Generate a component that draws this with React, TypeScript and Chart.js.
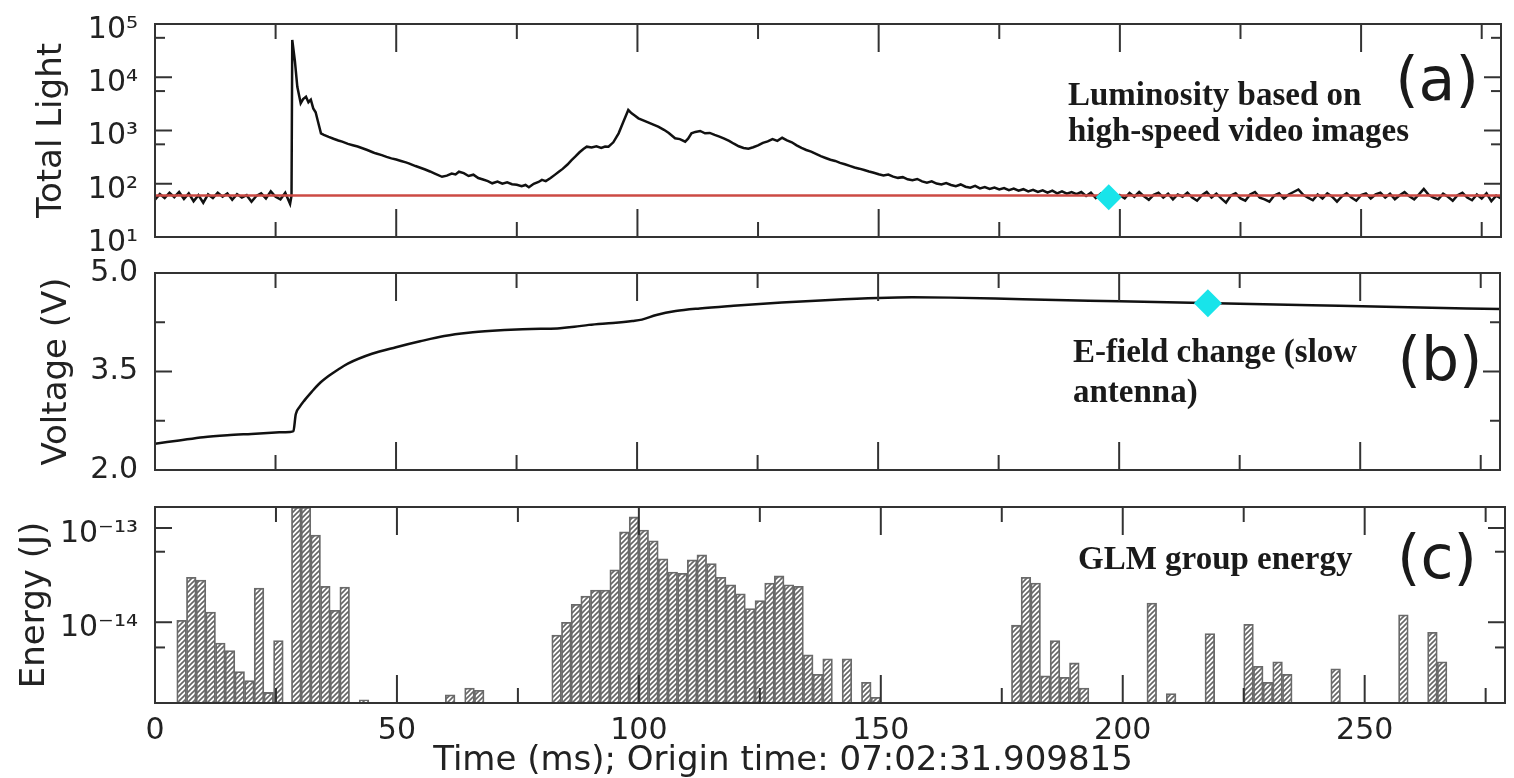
import React, { useEffect, useRef } from 'react';
import { Chart, registerables } from 'chart.js';

Chart.register(...registerables);

// ---------- shared time axis ----------
const timeTicks = [0, 50, 100, 150, 200, 250];
const timeTickLabels = ['0', '50', '100', '150', '200', '250'];
const timeMinorTicks = [25, 75, 125, 175, 225, 275];
const timeMin = 0;
const timeMax = 279;
const timeTitle = 'Time (ms); Origin time: 07:02:31.909815';

// ---------- panel (a): total light ----------
const lightTime = [
  0, 1, 2, 3, 4, 5, 6, 7, 8, 9, 10, 11, 12, 13, 14, 15, 16, 17, 18, 19, 20, 21, 22, 23, 24, 25, 26, 27, 28, 28.3,
  28.45, 29.0, 29.5, 30.2, 30.7, 31.3, 31.8, 32.3, 32.8, 33.3, 33.7, 34.4, 35, 36, 37, 38, 38.8, 40, 41, 42, 43, 44, 45, 45.7, 47, 48, 49, 50, 51, 52, 52.6, 54, 55, 56, 57, 58, 59.5,
  60.5, 61.5, 62.3, 63, 64, 65, 66, 67, 68, 69, 69.9, 71, 72, 73, 74, 75, 76, 76.8, 77.5, 78.5, 79.5, 80.2, 81, 82, 83, 83.7, 84.5, 85.5, 86.3, 87.1, 88, 88.8, 89.5, 90.5, 91.5, 92.5, 93.3, 94, 95,
  96.1, 97, 98.1, 98.8, 99.5, 100.2, 101.2, 102.2, 103.3, 104.3, 105.5, 106.5, 107.8, 108.8, 109.9, 110.5, 111.2, 112, 113, 114,
  115, 116, 117, 118, 119, 120, 121, 122, 123, 124, 125, 126, 127, 128, 129, 130, 131, 132, 133, 134,
  135, 136, 137, 138, 139, 140, 141, 142, 143, 144, 145, 146, 147, 148, 149, 150,
  151, 152, 153, 154, 155, 156, 157, 158, 159, 160,
  161, 162, 163, 164, 165, 166, 167, 168, 169, 170,
  171, 172, 173, 174, 175, 176, 177, 178, 179, 180,
  181, 182, 183, 184, 185, 186, 187, 188, 189, 190,
  191, 192, 193, 194, 195, 196, 197, 198, 199, 200,
  201, 202, 203, 204, 205, 206, 207, 208, 209, 210,
  211, 212, 213, 214, 215, 216, 217, 218, 219, 220,
  221, 222, 223, 224, 225, 226, 227, 228, 229, 230,
  231, 232, 233, 234, 235, 236, 237, 238, 239, 240,
  241, 242, 243, 244, 245, 246, 247, 248, 249, 250,
  251, 252, 253, 254, 255, 256, 257, 258, 259, 260,
  261, 262, 263, 264, 265, 266, 267, 268, 269, 270,
  271, 272, 273, 274, 275, 276, 277, 278, 279,
];
const lightValue = [
  50, 64, 54, 68, 56, 70, 52, 66, 47, 61, 44, 63, 54, 68, 57, 66, 50, 64, 55, 61, 46, 59, 66, 53, 72, 57, 51, 68, 42, 60,
  50000, 20000, 6600, 3240, 3900, 4300, 3400, 3800, 2600, 2200, 1570, 885, 830, 760, 700, 650, 617, 560, 530, 500, 465, 430, 395, 373, 345, 320, 300, 285, 268, 252, 242, 215, 200, 185, 170, 155, 135,
  142, 155, 150, 168, 158, 140, 148, 128, 120, 112, 102, 110, 100, 106, 98, 96, 90, 95, 86, 100, 108, 118, 112, 128, 150, 168, 190, 230, 275, 322, 390, 450, 497, 480, 505, 470, 500, 497, 600,
  885, 1400, 2427, 2100, 1900, 1693, 1550, 1420, 1290, 1178, 1030, 900, 713, 690, 617, 700, 885, 940, 980, 885,
  900, 830, 770, 705, 640, 565, 505, 470, 455, 485, 525, 585, 625, 690, 640, 730, 655, 600, 525, 470,
  430, 400, 365, 330, 305, 282, 268, 246, 232, 216, 202, 192, 181, 170, 161, 151,
  143, 149, 136, 129, 133, 121, 117, 123, 111, 105,
  111, 101, 97, 103, 95, 90, 97, 88, 84, 91,
  82, 87, 80, 85, 78, 83, 76, 81, 74, 79,
  72, 77, 70, 75, 68, 74, 66, 72, 65, 70,
  64, 70, 59, 68, 54, 65, 51, 63, 48, 61,
  53, 67, 57, 70, 58, 50, 62, 68, 55, 65,
  51, 63, 57, 68, 55, 48, 61, 70, 55, 65,
  53, 44, 60, 66, 53, 48, 63, 70, 55, 51,
  46, 60, 66, 53, 63, 70, 78, 62, 55, 49,
  63, 53, 66, 57, 46, 58, 66, 55, 48, 61,
  66, 53, 63, 68, 55, 65, 51, 61, 70, 58,
  51, 63, 80, 62, 55, 51, 65, 57, 48, 61,
  68, 55, 49, 63, 53, 66, 47, 60, 53,
];
const thresholdTime = [0, 279];
const thresholdValue = [60, 60];
const lightMarkerTime = [197.7];
const lightMarkerValue = [56];
const lightTicks = [10, 100, 1000, 10000, 100000];
const lightTickLabels = ['10¹', '10²', '10³', '10⁴', '10⁵'];
const lightMinorTicks = [550, 5500, 55000];

// ---------- panel (b): voltage ----------
const voltTime = [0, 5, 10, 15, 20, 25, 28, 28.7, 29.2, 30, 31, 32.5, 34, 36, 38, 40, 45, 50, 55, 60, 65, 70, 75, 80, 84, 87, 90, 95, 99, 101, 104, 108, 113, 120, 130, 140, 150, 157, 165, 180, 200, 220, 240, 260, 279];
const voltValue = [2.40, 2.45, 2.50, 2.53, 2.55, 2.57, 2.58, 2.59, 2.85, 2.96, 3.06, 3.19, 3.31, 3.43, 3.53, 3.62, 3.77, 3.87, 3.96, 4.04, 4.09, 4.12, 4.14, 4.15, 4.16, 4.18, 4.21, 4.24, 4.27, 4.29, 4.36, 4.42, 4.46, 4.50, 4.55, 4.59, 4.62, 4.63, 4.625, 4.60, 4.57, 4.54, 4.51, 4.48, 4.45];
const voltMarkerTime = [218.4];
const voltMarkerValue = [4.54];
const voltTicks = [2, 3.5, 5];
const voltTickLabels = ['2.0', '3.5', '5.0'];
const voltMinorTicks = [2.75, 4.25];

// ---------- panel (c): GLM group energy ----------
const glmTime = [
  5.5, 7.5, 9.5, 11.5, 13.5, 15.5, 17.5, 19.5, 21.5, 23.5, 25.5,
  29.2, 31.2, 33.2, 35.2, 37.2, 39.2, 43.2,
  61, 65, 67,
  83, 85, 87, 89, 91, 93, 95, 97, 99, 101, 103, 105, 107, 109, 111,
  113, 115, 117, 119, 121, 123, 125, 127, 129, 131, 133, 135, 137, 139,
  143, 147, 149,
  178, 180, 182, 184, 186, 188, 190, 192,
  206, 210, 218, 226, 228, 230, 232, 234, 244, 258, 264, 266,
];
const glmEnergy = [
  1.05e-14, 3.0e-14, 2.8e-14, 1.28e-14, 6.0e-15, 5.0e-15, 3.0e-15, 2.4e-15, 2.3e-14, 1.8e-15, 6.4e-15,
  1.66e-13, 1.66e-13, 8.4e-14, 2.4e-14, 1.34e-14, 2.36e-14, 1.5e-15,
  1.7e-15, 2.0e-15, 1.9e-15,
  7.3e-15, 1.0e-14, 1.55e-14, 1.9e-14, 2.2e-14, 2.2e-14, 3.6e-14, 9.1e-14, 1.31e-13, 9.5e-14, 7.3e-14, 4.7e-14, 3.4e-14, 3.3e-14, 4.6e-14,
  5.2e-14, 4.2e-14, 3.0e-14, 2.5e-14, 2.0e-14, 1.4e-14, 1.7e-14, 2.6e-14, 3.1e-14, 2.5e-14, 2.4e-14, 4.5e-15, 2.8e-15, 4.1e-15,
  4.1e-15, 2.3e-15, 1.6e-15,
  9.3e-15, 3.0e-14, 2.6e-14, 2.7e-15, 6.4e-15, 2.6e-15, 3.7e-15, 2.0e-15,
  1.6e-14, 1.75e-15, 7.6e-15, 9.5e-15, 3.4e-15, 2.3e-15, 3.8e-15, 2.8e-15, 3.2e-15, 1.2e-14, 7.8e-15, 3.8e-15,
];
const energyMin = 1.39e-15;
const energyMax = 1.67e-13;
const energyTicks = [1e-14, 1e-13];
const energyTickLabels = ['10⁻¹⁴', '10⁻¹³'];
const energyMinorTicks = [5.4e-15, 5.6e-14];

// ---------- helpers ----------
const INK = '#222';
const FONT = 'DejaVu Sans';
const NOTE_FONT = 'bold 33px "Liberation Serif"';
const PANEL_FONT = '60px "DejaVu Sans"';

type Txt = { text: string; x: number; y: number; font: string; align: CanvasTextAlign; color?: string };

function framePlugin(id: string, yMajor: number[], yMinor: number[], texts: Txt[]) {
  return {
    id,
    afterDraw(chart: any) {
      const { ctx, chartArea: a } = chart;
      const xs = chart.scales.x;
      const ys = chart.scales.y;
      ctx.save();
      ctx.strokeStyle = '#333';
      ctx.lineWidth = 2;
      const seg = (x1: number, y1: number, x2: number, y2: number) => {
        ctx.beginPath();
        ctx.moveTo(x1, y1);
        ctx.lineTo(x2, y2);
        ctx.stroke();
      };
      timeTicks.forEach((v) => {
        const p = xs.getPixelForValue(v);
        seg(p, a.top, p, a.top + 28);
        seg(p, a.bottom, p, a.bottom - 28);
      });
      timeMinorTicks.forEach((v) => {
        const p = xs.getPixelForValue(v);
        seg(p, a.top, p, a.top + 15);
        seg(p, a.bottom, p, a.bottom - 15);
      });
      yMajor.forEach((v) => {
        const p = ys.getPixelForValue(v);
        seg(a.left, p, a.left + 17, p);
        seg(a.right, p, a.right - 17, p);
      });
      yMinor.forEach((v) => {
        const p = ys.getPixelForValue(v);
        seg(a.left, p, a.left + 10, p);
        seg(a.right, p, a.right - 10, p);
      });
      ctx.strokeRect(a.left, a.top, a.right - a.left, a.bottom - a.top);
      texts.forEach((t) => {
        ctx.font = t.font;
        ctx.fillStyle = t.color || '#1a1a1a';
        ctx.textAlign = t.align;
        ctx.textBaseline = 'middle';
        ctx.fillText(t.text, t.x, t.y);
      });
      ctx.restore();
    },
  };
}

function yAxis(type: string, min: number, max: number, ticks: number[], labels: string[], title: string, titlePad: number, labelOffset: number) {
  return {
    type,
    min,
    max,
    afterFit: (s: any) => {
      s.width = 155;
      s.paddingTop = 0;
      s.paddingBottom = 0;
    },
    afterBuildTicks: (s: any) => {
      s.ticks = ticks.map((v) => ({ value: v }));
    },
    grid: { display: false, drawTicks: false },
    border: { display: false },
    ticks: {
      autoSkip: false,
      callback: (_v: any, i: number) => labels[i],
      font: { size: 30, family: FONT },
      color: INK,
      padding: 17,
      labelOffset,
    },
    title: {
      display: true,
      text: title,
      font: { size: 34, family: FONT },
      color: INK,
      padding: { top: titlePad, bottom: 0 },
    },
  };
}

const hiddenX = { type: 'linear', min: timeMin, max: timeMax, display: false };

function makeHatch(): CanvasPattern | string {
  const n = 5;
  const c = document.createElement('canvas');
  c.width = n;
  c.height = n;
  const g = c.getContext('2d');
  if (!g) return '#bbb';
  g.fillStyle = '#fff';
  g.fillRect(0, 0, n, n);
  g.strokeStyle = '#666';
  g.lineWidth = 1.6;
  g.beginPath();
  g.moveTo(-1, n + 1);
  g.lineTo(n + 1, -1);
  g.moveTo(-1, 1);
  g.lineTo(1, -1);
  g.moveTo(n - 1, n + 1);
  g.lineTo(n + 1, n - 1);
  g.stroke();
  return g.createPattern(c, 'repeat') || '#bbb';
}

const zip = (xs: number[], ys: number[]) => xs.map((x, i) => ({ x, y: ys[i] }));

const common = {
  responsive: false,
  animation: false as const,
  devicePixelRatio: 1,
  events: [] as any[],
};

export default function App() {
  const refA = useRef<HTMLCanvasElement>(null);
  const refB = useRef<HTMLCanvasElement>(null);
  const refC = useRef<HTMLCanvasElement>(null);

  useEffect(() => {
    Chart.defaults.font.family = FONT;
    const charts: Chart[] = [];

    if (refA.current) {
      charts.push(
        new Chart(refA.current, {
          type: 'line',
          data: {
            datasets: [
              {
                data: zip(lightMarkerTime, lightMarkerValue),
                showLine: false,
                pointStyle: 'rectRot',
                pointRadius: 13,
                backgroundColor: '#18e4ea',
                borderWidth: 0,
                order: 0,
              },
              {
                data: zip(thresholdTime, thresholdValue),
                borderColor: '#cc4a44',
                borderWidth: 2.5,
                pointRadius: 0,
                order: 1,
              },
              {
                data: zip(lightTime, lightValue),
                borderColor: '#111',
                borderWidth: 2.5,
                pointRadius: 0,
                tension: 0,
                order: 2,
              },
            ],
          },
          options: {
            ...common,
            layout: { padding: { left: 0, right: 9, top: 24, bottom: 25 } },
            plugins: { legend: { display: false }, tooltip: { enabled: false } },
            scales: {
              x: hiddenX as any,
              y: yAxis('logarithmic', 10, 100000, lightTicks, lightTickLabels, 'Total Light', 32, 6) as any,
            },
          },
          plugins: [
            framePlugin('frameA', lightTicks, lightMinorTicks, [
              { text: 'Luminosity based on', x: 1068, y: 96, font: NOTE_FONT, align: 'left' },
              { text: 'high-speed video images', x: 1068, y: 132, font: NOTE_FONT, align: 'left' },
              { text: '(a)', x: 1437, y: 84, font: PANEL_FONT, align: 'center' },
            ]) as any,
          ],
        })
      );
    }

    if (refB.current) {
      charts.push(
        new Chart(refB.current, {
          type: 'line',
          data: {
            datasets: [
              {
                data: zip(voltMarkerTime, voltMarkerValue),
                showLine: false,
                pointStyle: 'rectRot',
                pointRadius: 14,
                backgroundColor: '#18e4ea',
                borderWidth: 0,
                order: 0,
              },
              {
                data: zip(voltTime, voltValue),
                borderColor: '#111',
                borderWidth: 2.5,
                pointRadius: 0,
                cubicInterpolationMode: 'monotone',
                order: 1,
              },
            ],
          },
          options: {
            ...common,
            layout: { padding: { left: 0, right: 9, top: 23, bottom: 15 } },
            plugins: { legend: { display: false }, tooltip: { enabled: false } },
            scales: {
              x: hiddenX as any,
              y: yAxis('linear', 2, 5, voltTicks, voltTickLabels, 'Voltage (V)', 37, 0) as any,
            },
          },
          plugins: [
            framePlugin('frameB', voltTicks, voltMinorTicks, [
              { text: 'E-field change (slow', x: 1073, y: 103, font: NOTE_FONT, align: 'left' },
              { text: 'antenna)', x: 1073, y: 143, font: NOTE_FONT, align: 'left' },
              { text: '(b)', x: 1440, y: 114, font: PANEL_FONT, align: 'center' },
            ]) as any,
          ],
        })
      );
    }

    if (refC.current) {
      const hatch = makeHatch();
      charts.push(
        new Chart(refC.current, {
          type: 'bar',
          data: {
            datasets: [
              {
                data: zip(glmTime, glmEnergy) as any,
                backgroundColor: hatch as any,
                borderColor: '#6a6a6a',
                borderWidth: 1.8,
                barPercentage: 1,
                categoryPercentage: 1,
              },
            ],
          },
          options: {
            ...common,
            layout: { padding: { left: 0, right: 9, top: 22, bottom: 0 } },
            plugins: { legend: { display: false }, tooltip: { enabled: false } },
            scales: {
              x: {
                type: 'linear',
                min: timeMin,
                max: timeMax,
                offset: false,
                afterFit: (s: any) => {
                  s.height = 75;
                  s.paddingLeft = 0;
                  s.paddingRight = 0;
                },
                afterBuildTicks: (s: any) => {
                  s.ticks = timeTicks.map((v) => ({ value: v }));
                },
                grid: { display: false, drawTicks: false },
                border: { display: false },
                ticks: {
                  autoSkip: false,
                  maxRotation: 0,
                  callback: (_v: any, i: number) => timeTickLabels[i],
                  font: { size: 30, family: FONT },
                  color: INK,
                  padding: 10,
                },
                title: { display: false },
              } as any,
              y: yAxis('logarithmic', energyMin, energyMax, energyTicks, energyTickLabels, 'Energy (J)', 15, 6) as any,
            },
          },
          plugins: [
            framePlugin('frameC', energyTicks, energyMinorTicks, [
              { text: 'GLM group energy', x: 1078, y: 75, font: NOTE_FONT, align: 'left' },
              { text: '(c)', x: 1437, y: 77, font: PANEL_FONT, align: 'center' },
              { text: timeTitle, x: 783, y: 276, font: '34px "DejaVu Sans"', align: 'center', color: INK },
            ]) as any,
          ],
        })
      );
    }

    return () => {
      charts.forEach((c) => c.destroy());
    };
  }, []);

  const canvasStyle = (top: number, height: number): React.CSSProperties => ({
    position: 'absolute',
    left: 0,
    top,
    width: 1514,
    height,
  });

  return (
    <div style={{ position: 'fixed', left: 0, top: 0, width: 1514, height: 778, background: '#fff', overflow: 'hidden' }}>
      <canvas ref={refA} width={1514} height={262} style={canvasStyle(0, 262)} />
      <canvas ref={refB} width={1514} height={235} style={canvasStyle(250, 235)} />
      <canvas ref={refC} width={1514} height={293} style={canvasStyle(485, 293)} />
    </div>
  );
}
